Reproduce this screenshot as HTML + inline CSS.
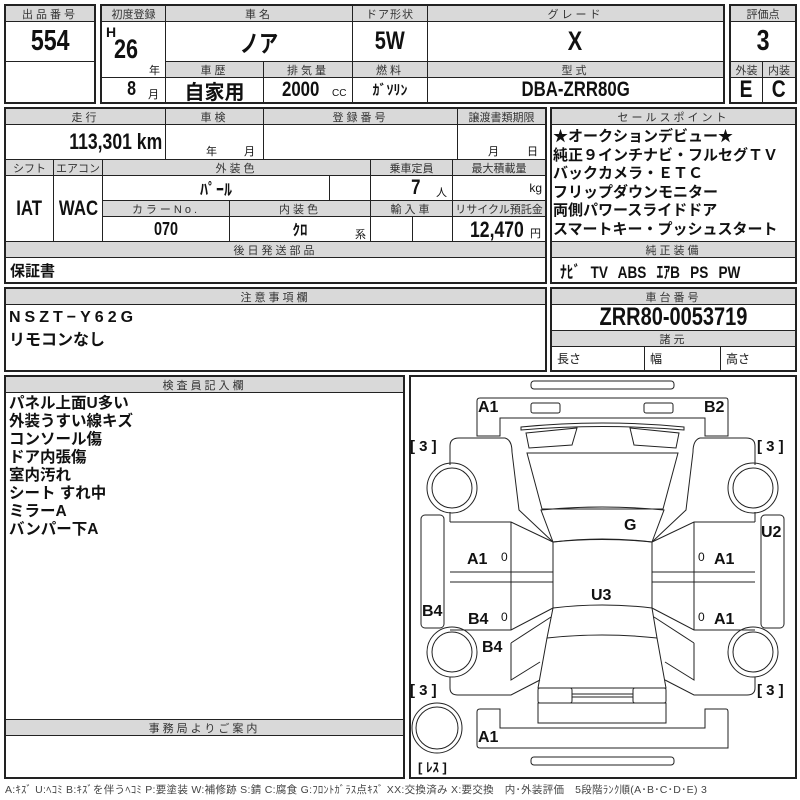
<!DOCTYPE html>
<html><head><meta charset="utf-8"><style>
*{box-sizing:border-box;margin:0;padding:0}
body{width:800px;height:800px;background:#fff;position:relative;overflow:hidden;font-family:"Liberation Sans","Noto Sans CJK JP",sans-serif;color:#111}
.c{position:absolute;border:1px solid #222;display:flex;align-items:center;justify-content:center;white-space:nowrap}
.h{background:#d9d9d9;font-size:11px;letter-spacing:3px;color:#333}
.v{font-weight:bold}
.n{display:inline-block;transform:scaleX(.8)}
.nr{display:inline-block;transform:scaleX(.8);transform-origin:right center}
.f{position:absolute;border:2px solid #222}
.t{position:absolute;white-space:nowrap}
</style></head><body>
<!-- box 1 -->
<div class="c h" style="left:5px;top:5px;width:90px;height:17px">出品番号</div>
<div class="c v" style="left:5px;top:21px;width:90px;height:41px;font-size:29px"><span class="n">554</span></div>
<div class="c" style="left:5px;top:61px;width:90px;height:42px"></div>
<div class="f" style="left:4px;top:4px;width:92px;height:100px"></div>
<!-- box 2 -->
<div class="c h" style="left:101px;top:5px;width:65px;height:17px;letter-spacing:0">初度登録</div>
<div class="c h" style="left:165px;top:5px;width:188px;height:17px">車名</div>
<div class="c h" style="left:352px;top:5px;width:76px;height:17px;letter-spacing:1px">ドア形状</div>
<div class="c h" style="left:427px;top:5px;width:297px;height:17px">グレード</div>
<div class="c" style="left:101px;top:21px;width:65px;height:57px"></div>
<div class="t v" style="left:106px;top:24px;font-size:14px">H</div>
<div class="t v" style="left:114px;top:34px;font-size:27px"><span class="n" style="transform-origin:left">26</span></div>
<div class="t" style="left:149px;top:62px;font-size:11px">年</div>
<div class="c v" style="left:165px;top:21px;width:188px;height:41px;font-size:24px"><span class="n">ノア</span></div>
<div class="c v" style="left:352px;top:21px;width:76px;height:41px;font-size:25px"><span class="n">5W</span></div>
<div class="c v" style="left:427px;top:21px;width:297px;height:41px;font-size:27px"><span class="n">X</span></div>
<div class="c h" style="left:165px;top:61px;width:99px;height:17px">車歴</div>
<div class="c h" style="left:263px;top:61px;width:90px;height:17px">排気量</div>
<div class="c h" style="left:352px;top:61px;width:76px;height:17px">燃料</div>
<div class="c h" style="left:427px;top:61px;width:297px;height:17px">型式</div>
<div class="c" style="left:101px;top:77px;width:65px;height:26px"></div>
<div class="t v" style="left:126px;top:78px;font-size:20px"><span class="n">8</span></div>
<div class="t" style="left:148px;top:86px;font-size:11px">月</div>
<div class="c" style="left:165px;top:77px;width:99px;height:26px;font-size:20px;font-weight:bold">自家用</div>
<div class="c" style="left:263px;top:77px;width:90px;height:26px"></div>
<div class="t v" style="left:282px;top:78px;font-size:21px"><span class="n" style="transform-origin:left">2000</span></div>
<div class="t" style="left:332px;top:88px;font-size:10px">CC</div>
<div class="c v" style="left:352px;top:77px;width:76px;height:26px;font-size:14px">ｶﾞｿﾘﾝ</div>
<div class="c v" style="left:427px;top:77px;width:297px;height:26px;font-size:21px"><span class="n">DBA-ZRR80G</span></div>
<div class="f" style="left:100px;top:4px;width:625px;height:100px"></div>
<!-- eval -->
<div class="c h" style="left:730px;top:5px;width:66px;height:17px;letter-spacing:0">評価点</div>
<div class="c v" style="left:730px;top:21px;width:66px;height:41px;font-size:29px"><span class="n">3</span></div>
<div class="c h" style="left:730px;top:61px;width:33px;height:17px;letter-spacing:0">外装</div>
<div class="c h" style="left:762px;top:61px;width:34px;height:17px;letter-spacing:0">内装</div>
<div class="c v" style="left:730px;top:77px;width:33px;height:26px;font-size:24px"><span class="n">E</span></div>
<div class="c v" style="left:762px;top:77px;width:34px;height:26px;font-size:24px"><span class="n">C</span></div>
<div class="f" style="left:729px;top:4px;width:68px;height:100px"></div>
<!-- block 2 -->
<div class="c h" style="left:5px;top:108px;width:161px;height:17px">走行</div>
<div class="c h" style="left:165px;top:108px;width:99px;height:17px">車検</div>
<div class="c h" style="left:263px;top:108px;width:195px;height:17px">登録番号</div>
<div class="c h" style="left:457px;top:108px;width:89px;height:17px;letter-spacing:0">譲渡書類期限</div>
<div class="c v" style="left:5px;top:124px;width:161px;height:36px;font-size:22px;justify-content:flex-end;padding-right:3px"><span class="nr">113,301 km</span></div>
<div class="c" style="left:165px;top:124px;width:99px;height:36px"></div>
<div class="t" style="left:206px;top:143px;font-size:11px">年</div><div class="t" style="left:244px;top:143px;font-size:11px">月</div>
<div class="c" style="left:263px;top:124px;width:195px;height:36px"></div>
<div class="c" style="left:457px;top:124px;width:89px;height:36px"></div>
<div class="t" style="left:488px;top:143px;font-size:11px">月</div><div class="t" style="left:527px;top:143px;font-size:11px">日</div>
<div class="c h" style="left:5px;top:159px;width:49px;height:17px;letter-spacing:0">シフト</div>
<div class="c h" style="left:53px;top:159px;width:50px;height:17px;letter-spacing:0">エアコン</div>
<div class="c h" style="left:102px;top:159px;width:269px;height:17px">外装色</div>
<div class="c h" style="left:370px;top:159px;width:83px;height:17px;letter-spacing:0">乗車定員</div>
<div class="c h" style="left:452px;top:159px;width:94px;height:17px;letter-spacing:0">最大積載量</div>
<div class="c v" style="left:5px;top:175px;width:49px;height:67px;font-size:21px"><span class="n">IAT</span></div>
<div class="c v" style="left:53px;top:175px;width:50px;height:67px;font-size:21px"><span class="n">WAC</span></div>
<div class="c v" style="left:102px;top:175px;width:228px;height:26px;font-size:16px">ﾊﾟｰﾙ</div>
<div class="c" style="left:329px;top:175px;width:42px;height:26px"></div>
<div class="c" style="left:370px;top:175px;width:83px;height:26px"></div>
<div class="t v" style="left:410px;top:176px;font-size:21px"><span class="n">7</span></div><div class="t" style="left:436px;top:184px;font-size:11px">人</div>
<div class="c" style="left:452px;top:175px;width:94px;height:26px;justify-content:flex-end;padding-right:3px;font-size:12px">kg</div>
<div class="c h" style="left:102px;top:200px;width:128px;height:17px">カラーNo.</div>
<div class="c h" style="left:229px;top:200px;width:142px;height:17px">内装色</div>
<div class="c h" style="left:370px;top:200px;width:83px;height:17px">輸入車</div>
<div class="c h" style="left:452px;top:200px;width:94px;height:17px;letter-spacing:0">リサイクル預託金</div>
<div class="c v" style="left:102px;top:216px;width:128px;height:26px;font-size:18px"><span class="n">070</span></div>
<div class="c v" style="left:229px;top:216px;width:142px;height:26px;font-size:15px">ｸﾛ</div>
<div class="t" style="left:355px;top:226px;font-size:11px">系</div>
<div class="c" style="left:370px;top:216px;width:43px;height:26px"></div>
<div class="c" style="left:412px;top:216px;width:41px;height:26px"></div>
<div class="c" style="left:452px;top:216px;width:94px;height:26px"></div>
<div class="t v" style="left:470px;top:217px;font-size:22px"><span class="n" style="transform-origin:left">12,470</span></div><div class="t" style="left:530px;top:225px;font-size:11px">円</div>
<div class="c h" style="left:5px;top:241px;width:541px;height:17px">後日発送部品</div>
<div class="c" style="left:5px;top:257px;width:541px;height:26px;justify-content:flex-start;padding-left:4px;font-size:15px;font-weight:bold">保証書</div>
<div class="f" style="left:4px;top:107px;width:543px;height:177px"></div>
<!-- sales -->
<div class="c h" style="left:551px;top:108px;width:245px;height:17px">セールスポイント</div>
<div class="c" style="left:551px;top:124px;width:245px;height:118px"></div>
<div class="t" style="left:553px;top:128px;font-size:15px;font-weight:bold;line-height:18.5px">★オークションデビュー★<br>純正９インチナビ・フルセグＴＶ<br>バックカメラ・ＥＴＣ<br>フリップダウンモニター<br>両側パワースライドドア<br>スマートキー・プッシュスタート</div>
<div class="c h" style="left:551px;top:241px;width:245px;height:17px">純正装備</div>
<div class="c v" style="left:551px;top:257px;width:245px;height:26px;font-size:17px;justify-content:flex-start;padding-left:8px"><span class="n" style="transform-origin:left;word-spacing:8px">ﾅﾋﾞ TV ABS ｴｱB PS PW</span></div>
<div class="f" style="left:550px;top:107px;width:247px;height:177px"></div>
<!-- notes -->
<div class="c h" style="left:5px;top:288px;width:541px;height:17px">注意事項欄</div>
<div class="c" style="left:5px;top:304px;width:541px;height:67px"></div>
<div class="t" style="left:9px;top:308px;font-size:16px;font-weight:bold;line-height:19px;letter-spacing:4px">NSZT−Y62G</div>
<div class="t" style="left:9px;top:326px;font-size:16px;font-weight:bold">リモコンなし</div>
<div class="f" style="left:4px;top:287px;width:543px;height:85px"></div>
<!-- chassis -->
<div class="c h" style="left:551px;top:288px;width:245px;height:17px">車台番号</div>
<div class="c v" style="left:551px;top:304px;width:245px;height:27px;font-size:25px"><span class="n">ZRR80-0053719</span></div>
<div class="c h" style="left:551px;top:330px;width:245px;height:17px">諸元</div>
<div class="c" style="left:551px;top:346px;width:94px;height:25px;justify-content:flex-start;padding-left:5px;font-size:12px">長さ</div>
<div class="c" style="left:644px;top:346px;width:77px;height:25px;justify-content:flex-start;padding-left:5px;font-size:12px">幅</div>
<div class="c" style="left:720px;top:346px;width:76px;height:25px;justify-content:flex-start;padding-left:5px;font-size:12px">高さ</div>
<div class="f" style="left:550px;top:287px;width:247px;height:85px"></div>
<!-- inspector -->
<div class="c h" style="left:5px;top:376px;width:399px;height:17px">検査員記入欄</div>
<div class="t" style="left:9px;top:395px;font-size:15.5px;font-weight:bold;line-height:18px">パネル上面U多い<br>外装うすい線キズ<br>コンソール傷<br>ドア内張傷<br>室内汚れ<br>シート すれ中<br>ミラーA<br>バンパー下A</div>
<div class="c h" style="left:5px;top:719px;width:399px;height:17px">事務局よりご案内</div>
<div class="f" style="left:4px;top:375px;width:401px;height:404px"></div>
<!-- car -->
<div class="f" style="left:409px;top:375px;width:388px;height:404px"></div>
<svg style="position:absolute;left:0;top:0" width="800" height="800" fill="none" stroke="#222" stroke-width="1">
<rect x="531" y="381" width="143" height="8" rx="3"/>
<path d="M480,398 H726 Q728,398 728,401 V436 H705 V418 H500 V436 H477 V401 Q477,398 480,398Z"/>
<rect x="531" y="403" width="29" height="10" rx="2"/><rect x="644" y="403" width="29" height="10" rx="2"/>
<path d="M521,427 Q602,419 684,427 L684,430 Q602,423 521,430Z"/>
<path d="M526,433 L577,428 L572,445 L529,448Z"/><path d="M630,428 L679,433 L676,448 L634,445Z"/>
<path d="M527,453 L678,453 L663,509 L542,509Z"/>
<path d="M541,510 Q602,504 664,510 L652,542 Q602,537 553,542Z"/>
<path d="M459,438 H505 Q512,440 512,452 L519,510 L553,542 M450,465 V446 Q450,438 459,438"/>
<path d="M746,438 H700 Q693,440 693,452 L686,510 L652,542 M755,465 V446 Q755,438 746,438"/>
<circle cx="452" cy="488" r="25"/><circle cx="452" cy="488" r="20"/>
<circle cx="753" cy="488" r="25"/><circle cx="753" cy="488" r="20"/>
<circle cx="452" cy="652" r="25"/><circle cx="452" cy="652" r="20"/>
<circle cx="753" cy="652" r="25"/><circle cx="753" cy="652" r="20"/>
<circle cx="437" cy="728" r="25"/><circle cx="437" cy="728" r="21"/>
<path d="M450,512 V522 M755,512 V522"/>
<rect x="421" y="515" width="23" height="113" rx="4"/><rect x="761" y="515" width="23" height="113" rx="4"/>
<path d="M553,542 Q602,536 652,542 V608 Q602,602 553,608Z"/>
<path d="M450,522 H511 L553,542 M450,572 H553 M450,582 H553 M450,630 H511 L553,608 M511,522 V630"/>
<path d="M755,522 H694 L652,542 M755,572 H652 M755,582 H652 M755,630 H694 L652,608 M694,522 V630"/>
<path d="M553,608 L547,638 Q602,632 657,638 L652,608"/>
<path d="M547,638 L538,688 H666 L657,638"/>
<path d="M511,643 L551,617 M511,643 V680 L540,662 M694,643 L654,617 M694,643 V680 L665,662"/>
<path d="M450,677 V688 Q450,695 458,695 H511 L540,680 M755,677 V688 Q755,695 747,695 H694 L665,680"/>
<rect x="538" y="688" width="34" height="15" rx="2"/><rect x="633" y="688" width="33" height="15" rx="2"/>
<path d="M572,694 H633 M572,697 H633"/>
<rect x="538" y="703" width="128" height="20"/>
<path d="M480,709 H500 V728 H705 V709 H726 Q728,709 728,712 V748 H480 Q477,748 477,745 V712 Q477,709 480,709Z"/>
<rect x="531" y="757" width="143" height="8" rx="3"/>
</svg>
<div class="t v" style="left:478px;top:399px;font-size:16px">A1</div>
<div class="t v" style="left:704px;top:399px;font-size:16px">B2</div>
<div class="t v" style="left:410px;top:438px;font-size:15px">[ 3 ]</div>
<div class="t v" style="left:757px;top:438px;font-size:15px">[ 3 ]</div>
<div class="t v" style="left:624px;top:517px;font-size:16px">G</div>
<div class="t v" style="left:761px;top:524px;font-size:16px">U2</div>
<div class="t v" style="left:467px;top:551px;font-size:16px">A1</div>
<div class="t" style="left:501px;top:550px;font-size:12px">0</div>
<div class="t v" style="left:714px;top:551px;font-size:16px">A1</div>
<div class="t" style="left:698px;top:550px;font-size:12px">0</div>
<div class="t v" style="left:591px;top:587px;font-size:16px">U3</div>
<div class="t v" style="left:422px;top:603px;font-size:16px">B4</div>
<div class="t v" style="left:468px;top:611px;font-size:16px">B4</div>
<div class="t" style="left:501px;top:610px;font-size:12px">0</div>
<div class="t v" style="left:714px;top:611px;font-size:16px">A1</div>
<div class="t" style="left:698px;top:610px;font-size:12px">0</div>
<div class="t v" style="left:482px;top:639px;font-size:16px">B4</div>
<div class="t v" style="left:410px;top:682px;font-size:15px">[ 3 ]</div>
<div class="t v" style="left:757px;top:682px;font-size:15px">[ 3 ]</div>
<div class="t v" style="left:478px;top:729px;font-size:16px">A1</div>
<div class="t v" style="left:418px;top:757px;font-size:13px">[ ﾚｽ ]</div>
<div class="t" style="left:5px;top:782px;font-size:10.5px;color:#444;letter-spacing:0.3px">A:ｷｽﾞ U:ﾍｺﾐ B:ｷｽﾞを伴うﾍｺﾐ P:要塗装 W:補修跡 S:錆 C:腐食 G:ﾌﾛﾝﾄｶﾞﾗｽ点ｷｽﾞ XX:交換済み X:要交換　内･外装評価　5段階ﾗﾝｸ順(A･B･C･D･E) 3</div>
</body></html>
